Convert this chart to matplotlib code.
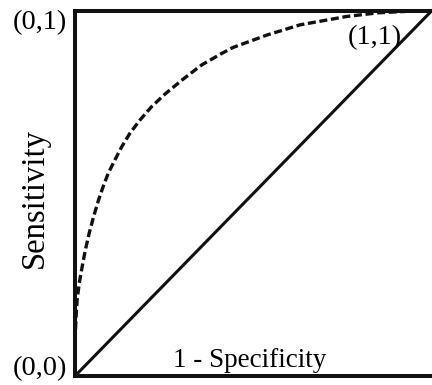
import matplotlib
matplotlib.use("Agg")
import matplotlib.pyplot as plt

# ROC curve (1 - specificity, sensitivity)
roc_fpr = [0.0, 0.0005, 0.001, 0.003, 0.006, 0.012, 0.020, 0.029, 0.040, 0.052,
           0.066, 0.079, 0.093, 0.112, 0.131, 0.154, 0.182, 0.215, 0.252, 0.299,
           0.355, 0.412, 0.443, 0.538, 0.631, 0.762, 0.85, 0.93, 1.0]
roc_tpr = [0.0, 0.06, 0.118, 0.162, 0.208, 0.255, 0.299, 0.345, 0.392, 0.436,
           0.482, 0.519, 0.555, 0.592, 0.628, 0.665, 0.701, 0.738, 0.772, 0.810,
           0.852, 0.884, 0.900, 0.934, 0.962, 0.985, 0.995, 0.999, 1.0]

# chance line
diag_x = [0.0, 1.0]
diag_y = [0.0, 1.0]

plt.rcParams["font.family"] = ["Liberation Serif", "DejaVu Serif"]

fig = plt.figure(figsize=(4.32, 3.85), dpi=100)
ax = fig.add_axes([75 / 432, 9 / 385, 356.5 / 432, 365 / 385])

ax.plot(roc_fpr, roc_tpr, color="#111111", lw=2.4, linestyle=(0, (2.4, 1.1)),
        solid_capstyle="butt", clip_on=False)
ax.plot(diag_x, diag_y, color="#111111", lw=2.2, clip_on=False)

ax.set_xlim(0, 1)
ax.set_ylim(0, 1)
ax.set_xticks([])
ax.set_yticks([])
for side in ["left", "top", "bottom"]:
    ax.spines[side].set_linewidth(2.9)
    ax.spines[side].set_color("#111111")
ax.spines["right"].set_visible(False)

fig.text(39.5 / 432, 1 - 22.5 / 385, "(0,1)", fontsize=20.5, ha="center", va="center")
fig.text(39.5 / 432, 1 - 368.5 / 385, "(0,0)", fontsize=20.5, ha="center", va="center")
fig.text(375 / 432, 1 - 37.5 / 385, "(1,1)", fontsize=20.5, ha="center", va="center")
fig.text(35 / 432, 1 - 198 / 385, "Sensitivity", fontsize=23.5, rotation=90,
         ha="center", va="center")
fig.text(250 / 432, 1 - 367 / 385, "1 - Specificity", fontsize=19.5,
         ha="center", va="baseline")

fig.savefig("out.png", dpi=100)
